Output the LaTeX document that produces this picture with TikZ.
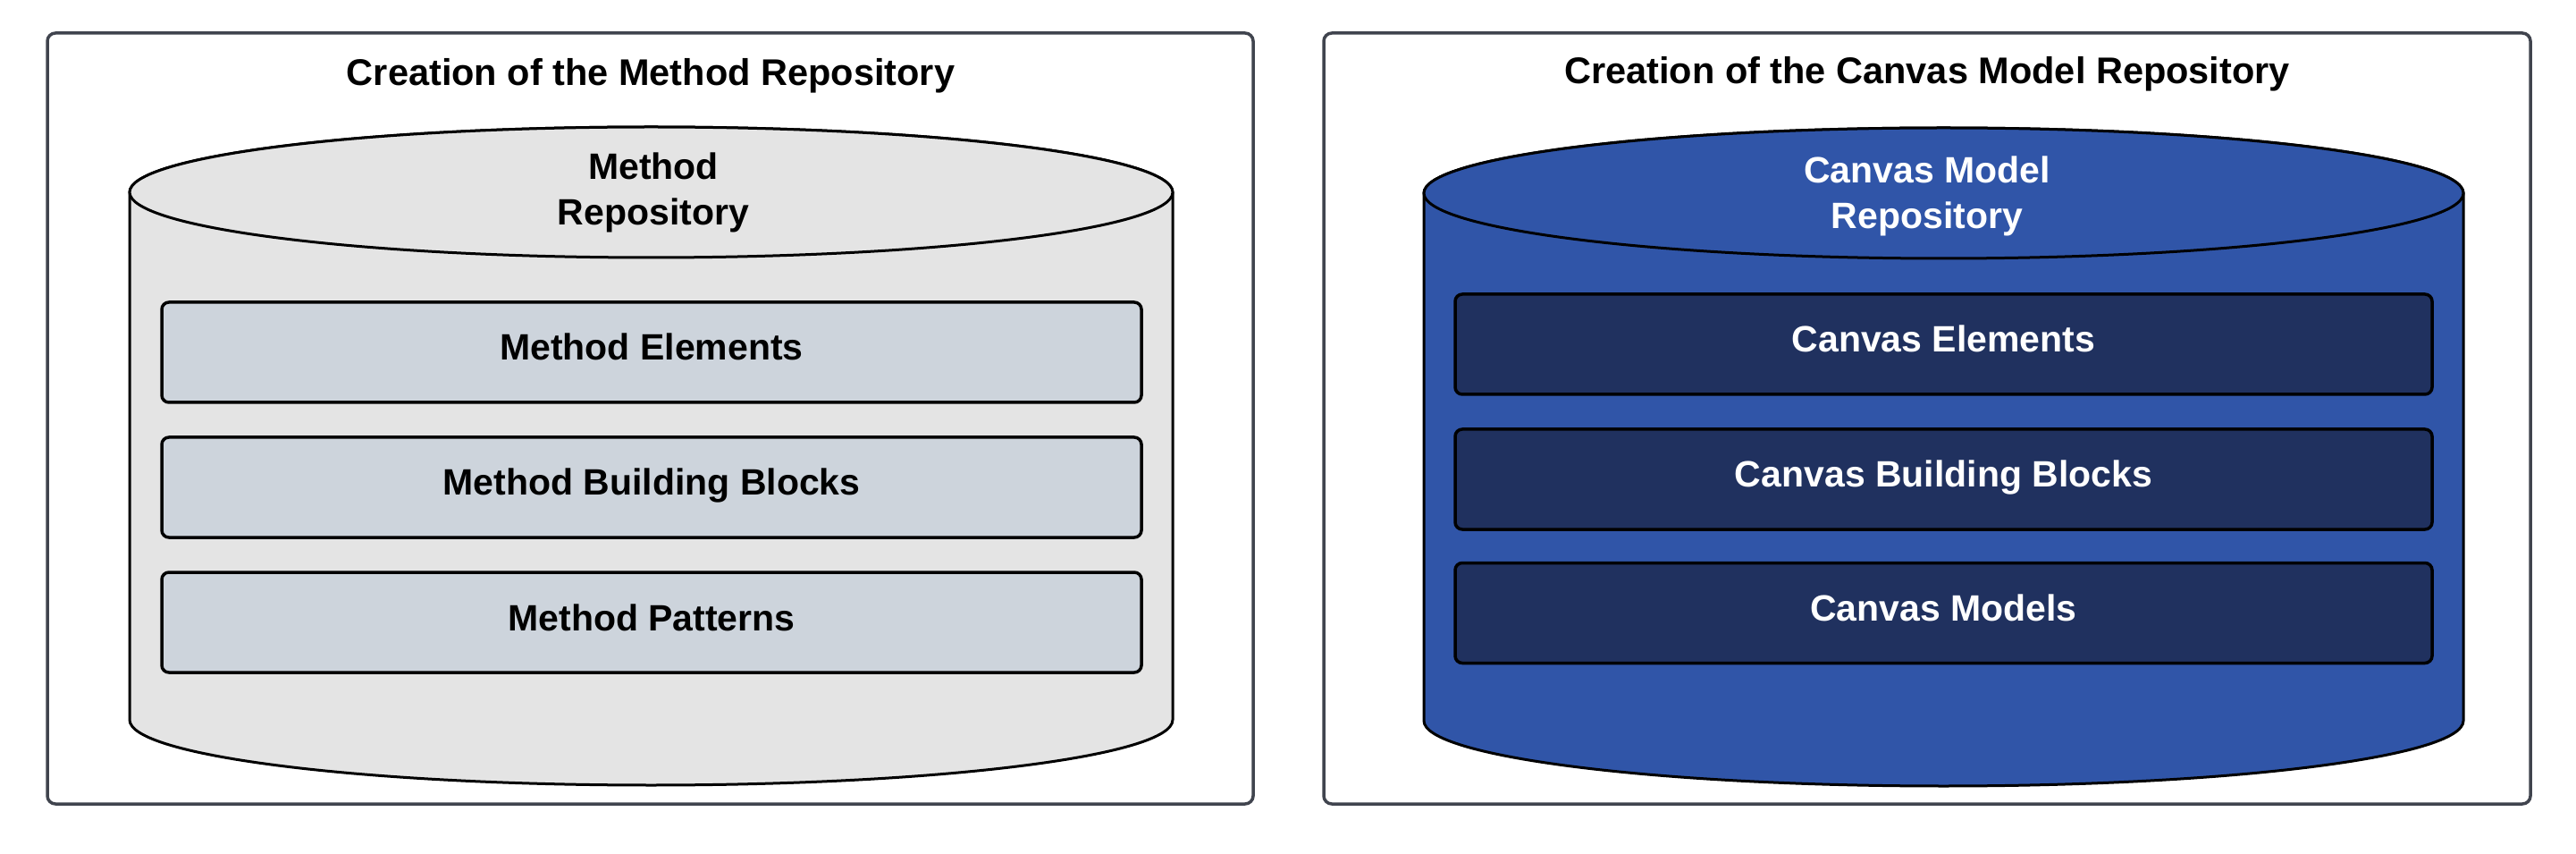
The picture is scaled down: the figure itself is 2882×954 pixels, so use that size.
\documentclass[tikz,border=0pt]{standalone}
\usepackage{fontspec}
\setmainfont{Liberation Sans}
\definecolor{framegray}{HTML}{40444E}
\definecolor{cylgray}{HTML}{E4E4E4}
\definecolor{boxgray}{HTML}{CDD4DC}
\definecolor{cylblue}{HTML}{3055A8}
\definecolor{boxblue}{HTML}{20315F}
\tikzset{
  frame/.style={draw=framegray, line width=3.5pt, rounded corners=9pt, fill=white, inner sep=0pt},
  ttl/.style={font=\fontsize{41.5}{49}\selectfont\bfseries, text=black, inner sep=0pt},
  cyl/.style={draw=black, line width=3pt},
  cyllabel/.style={font=\fontsize{41}{51}\selectfont\bfseries, align=center, inner sep=0pt},
  layer/.style={draw=black, line width=3.5pt, rounded corners=8pt, minimum height=112pt,
    font=\fontsize{41}{49}\selectfont\bfseries, text height=18pt, text depth=0pt, inner sep=0pt},
  graylayer/.style={layer, fill=boxgray, text=black, minimum width=1096pt},
  bluelayer/.style={layer, fill=boxblue, text=white, minimum width=1093pt}
}
\begin{document}
\begin{tikzpicture}[x=1pt,y=1pt]
\useasboundingbox (0,0) rectangle (2882,954);
\fill[white] (0,0) rectangle (2882,954);
% frames
\node[frame, minimum width=1349pt, minimum height=862pt] (frameL) at (727.5,486) {};
\node[frame, minimum width=1350pt, minimum height=862pt] (frameR) at (2156,486) {};
\node[ttl] (titleL) at (728,869) {Creation of the Method Repository};
\node[ttl] (titleR) at (2156,871) {Creation of the Canvas Model Repository};
% left cylinder
\draw[cyl, fill=cylgray] (145,739) -- (145,149) arc[start angle=180, end angle=360, x radius=583.5, y radius=73] -- (1312,739) arc[start angle=0, end angle=180, x radius=583.5, y radius=73] -- cycle;
\draw[cyl, fill=cylgray] (728.5,739) ellipse[x radius=583.5, y radius=73];
\node[cyllabel, text=black] (repoL) at (731,738.5) {Method\\Repository};
% right cylinder
\draw[cyl, fill=cylblue] (1593,738) -- (1593,148) arc[start angle=180, end angle=360, x radius=581.5, y radius=73] -- (2756,738) arc[start angle=0, end angle=180, x radius=581.5, y radius=73] -- cycle;
\draw[cyl, fill=cylblue] (2174.5,738) ellipse[x radius=581.5, y radius=73];
\node[cyllabel, text=white] (repoR) at (2156,735) {Canvas Model\\Repository};
% left layers
\node[graylayer] (me) at (729,560) {Method Elements};
\node[graylayer] (mbb) at (729,409) {Method Building Blocks};
\node[graylayer] (mp) at (729,258) {Method Patterns};
% right layers
\node[bluelayer] (ce) at (2174.5,569) {Canvas Elements};
\node[bluelayer] (cbb) at (2174.5,418) {Canvas Building Blocks};
\node[bluelayer] (cm) at (2174.5,268.5) {Canvas Models};
\end{tikzpicture}
\end{document}
